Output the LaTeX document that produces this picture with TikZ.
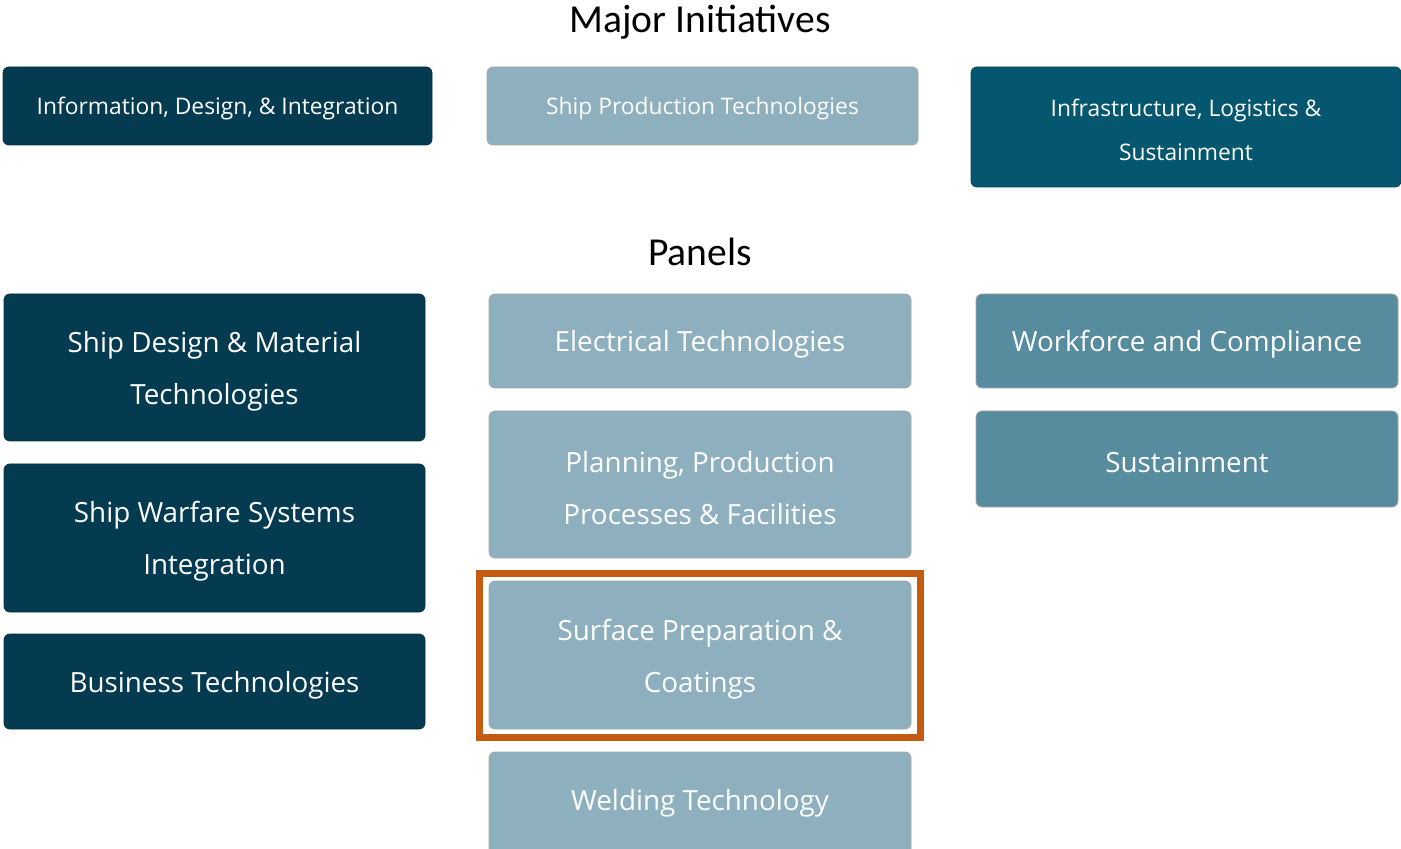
\documentclass[tikz,border=0pt]{standalone}
\usepackage{fontspec}
\setmainfont{Open Sans}
\newfontfamily\titlefont{Carlito}
\usepackage{tikz}

\definecolor{navy}{RGB}{5,59,80}
\definecolor{deepteal}{RGB}{5,86,111}
\definecolor{paleteal}{RGB}{142,176,190}
\definecolor{midteal}{RGB}{87,139,158}
\definecolor{rust}{RGB}{197,90,17}

\begin{document}
\begin{tikzpicture}[x=0.5pt,y=-0.5pt]
\tikzset{every node/.style={inner sep=0pt,text=white,align=center}}
\tikzset{navybox/.style={fill=navy,draw=navy!80!black,rounded corners=3pt}}
\tikzset{tealbox/.style={fill=deepteal,draw=deepteal!80!black,rounded corners=3pt}}
\tikzset{palebox/.style={fill=paleteal,draw=gray!70,rounded corners=3pt}}
\tikzset{midbox/.style={fill=midteal,draw=gray!70,rounded corners=3pt}}
\tikzset{initext/.style={font=\fontsize{11.4}{22}\selectfont}}
\tikzset{paneltext/.style={font=\fontsize{13.9}{26}\selectfont}}
\tikzset{heading/.style={text=black,font=\titlefont\fontsize{19.8}{22}\selectfont}}
\useasboundingbox (0,0) rectangle (1401,849);
% major initiatives
\node[heading] (major) at (700,22) {Major Initiatives};
\draw [navybox] (3,67) rectangle (432,145);
\node[initext] (idi) at (217.5,109) {Information, Design, \& Integration};
\draw [palebox] (487,67) rectangle (918,145);
\node[initext] (spt) at (702.5,109) {Ship Production Technologies};
\draw [tealbox] (971,67) rectangle (1401,187);
\node[initext] (ils) at (1186,130) {Infrastructure, Logistics \&\\Sustainment};
% panels
\node[heading] (panels) at (700,252) {Panels};
\draw [navybox] (4,294) rectangle (425,441);
\node[paneltext] (sdm) at (214.5,371) {Ship Design \& Material\\Technologies};
\draw [navybox] (4,464) rectangle (425,612);
\node[paneltext] (sws) at (214.5,541) {Ship Warfare Systems\\Integration};
\draw [navybox] (4,634) rectangle (425,729);
\node[paneltext] (bt) at (214.5,685) {Business Technologies};
\draw [palebox] (489,294) rectangle (911,388);
\node[paneltext] (et) at (700,344) {Electrical Technologies};
\draw [palebox] (489,411) rectangle (911,558);
\node[paneltext] (ppf) at (700,488) {Planning, Production\\Processes \& Facilities};
\draw [palebox] (489,581) rectangle (911,729);
\node[paneltext] (spc) at (700,659) {Surface Preparation \&\\Coatings};
\draw [palebox] (489,752) rectangle (911,860);
\node[paneltext] (wt) at (700,803) {Welding Technology};
\draw [midbox] (976,294) rectangle (1398,388);
\node[paneltext] (wc) at (1187,344) {Workforce and Compliance};
\draw [midbox] (976,411) rectangle (1398,507);
\node[paneltext] (sus) at (1187,462) {Sustainment};
% highlight
\draw [rust,line width=3.5pt] (479.5,573.5) rectangle (920.5,737.5);
\end{tikzpicture}
\end{document}
